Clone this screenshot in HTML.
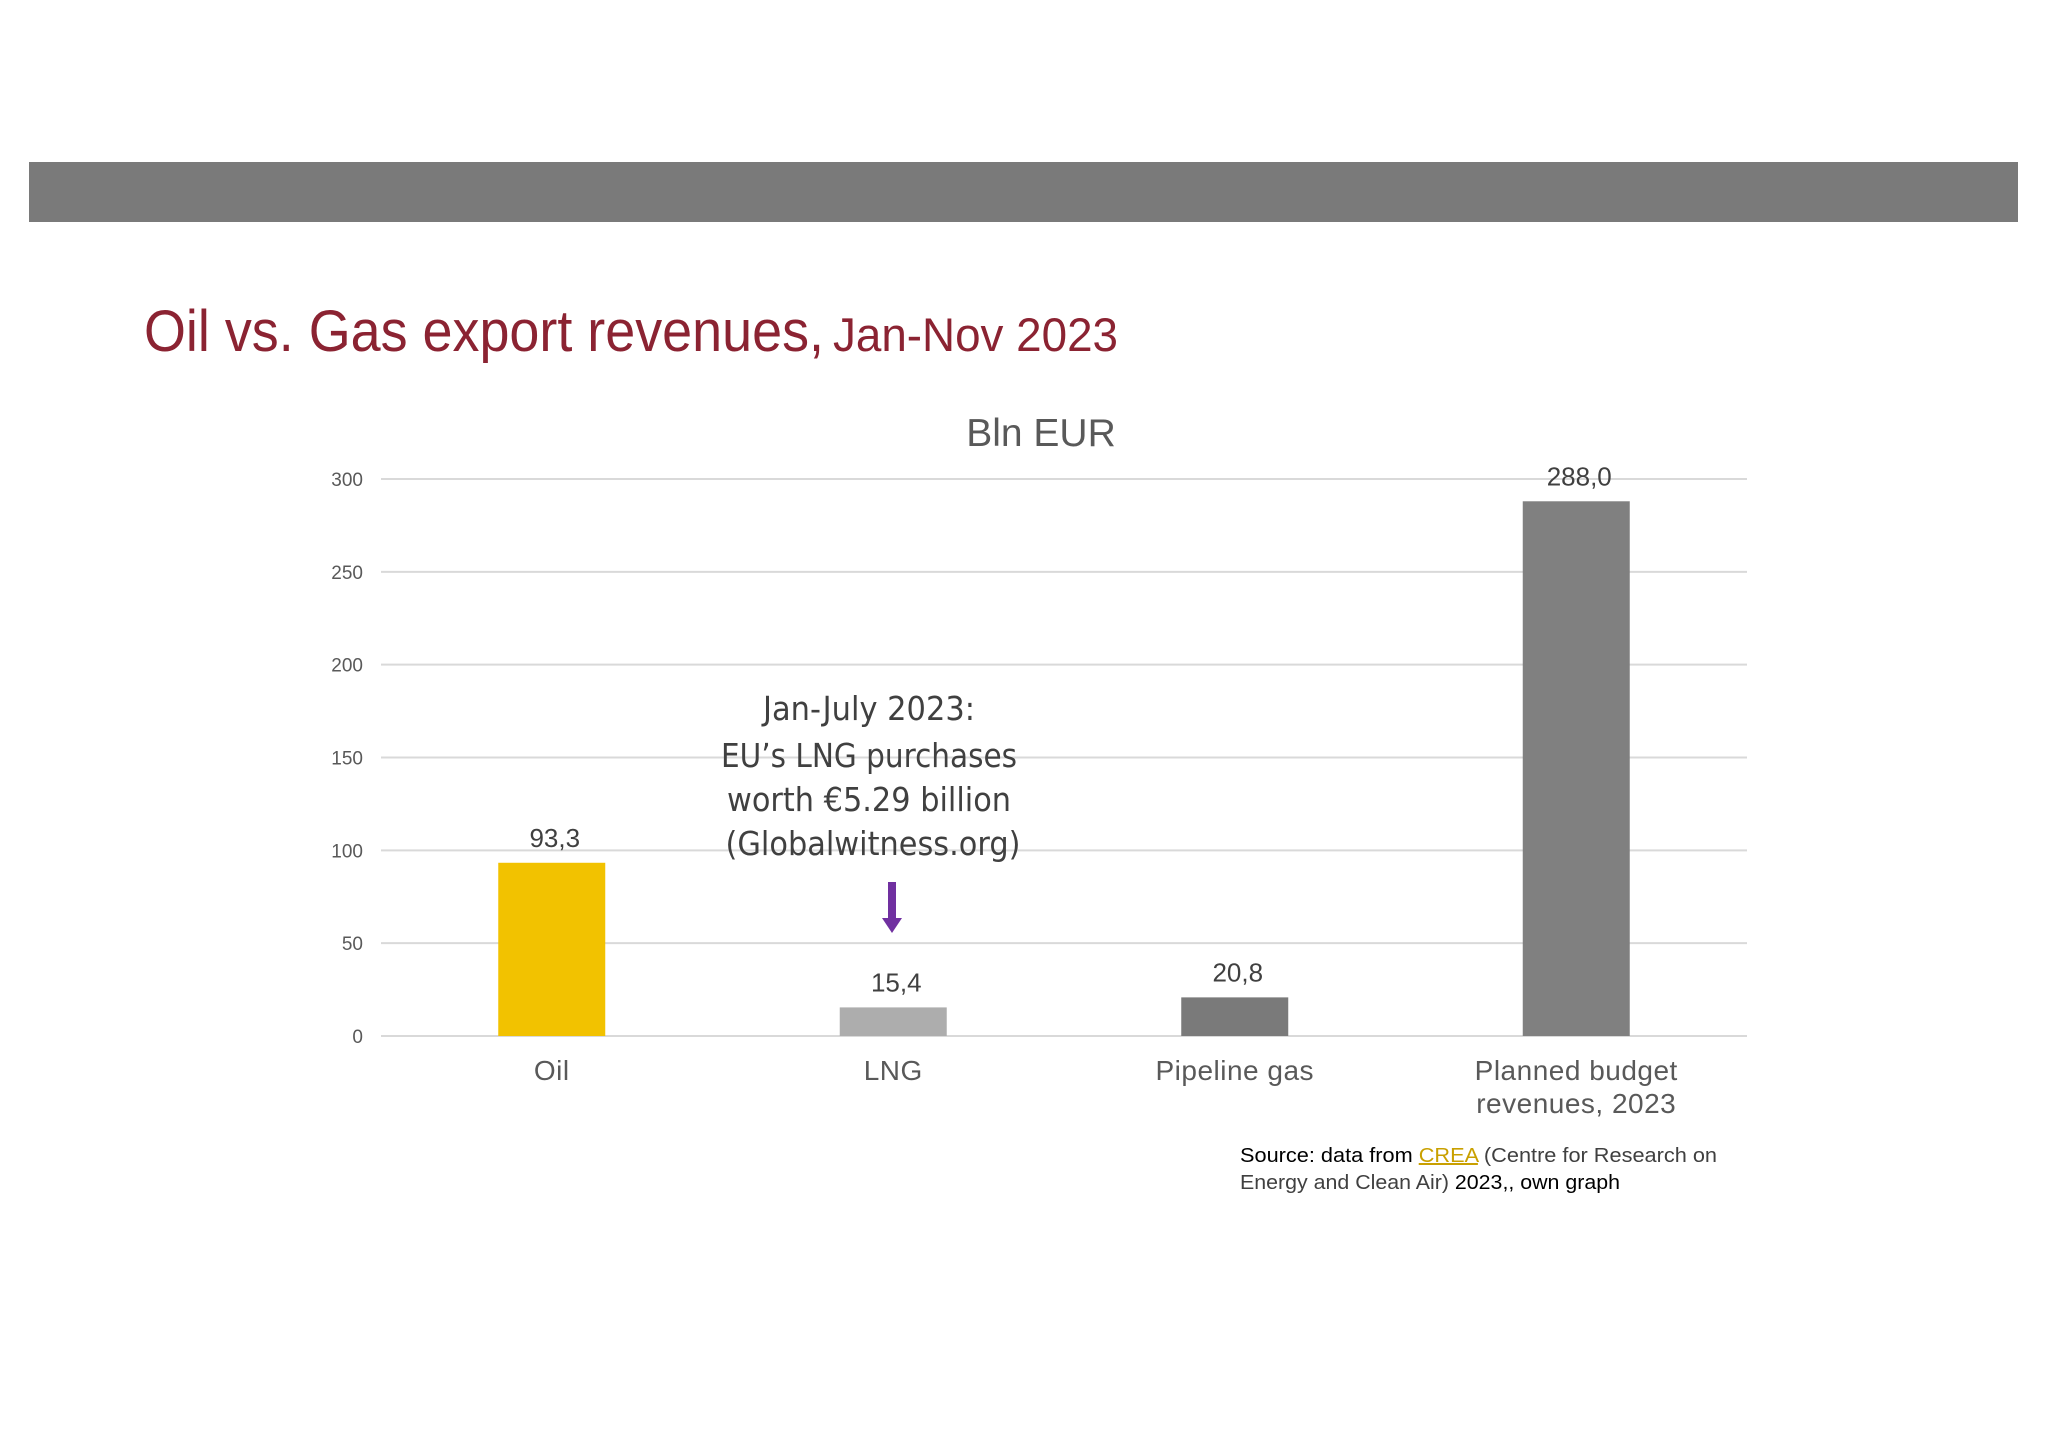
<!DOCTYPE html>
<html><head><meta charset="utf-8"><style>
body{margin:0;width:2048px;height:1447px;background:#fff;overflow:hidden;font-family:"Liberation Sans",sans-serif;}
</style></head><body>
<svg width="2048" height="1447" viewBox="0 0 2048 1447" xmlns="http://www.w3.org/2000/svg">
<rect x="29" y="162" width="1989" height="60" fill="#7a7a7a"/>
<text x="144" y="351" fill="#8b2332" font-size="58" textLength="680" lengthAdjust="spacingAndGlyphs">Oil vs. Gas export revenues,</text>
<text x="833" y="351" fill="#8b2332" font-size="47" textLength="285" lengthAdjust="spacingAndGlyphs">Jan-Nov 2023</text>
<text x="1041" y="446" fill="#595959" font-size="39" text-anchor="middle">Bln EUR</text>
<g id="chart"></g>
<g fill="#404040" font-size="33" text-anchor="middle" font-family="'DejaVu Sans','Liberation Sans',sans-serif">
<text x="869" y="720" textLength="212" lengthAdjust="spacingAndGlyphs">Jan-July 2023:</text>
<text x="869" y="767" textLength="296" lengthAdjust="spacingAndGlyphs">EU’s LNG purchases</text>
<text x="869" y="811" textLength="284" lengthAdjust="spacingAndGlyphs">worth €5.29 billion</text>
<text x="873" y="855" textLength="295" lengthAdjust="spacingAndGlyphs">(Globalwitness.org)</text>
</g>
<g>
<rect x="888" y="882" width="8" height="38" fill="#7030a0"/>
<polygon points="882,918 902,918 892,933" fill="#7030a0"/>
</g>
<g font-size="20">
<text x="1240" y="1162" fill="#000" textLength="477" lengthAdjust="spacingAndGlyphs">Source: data from <tspan fill="#c9a000" text-decoration="underline">CREA</tspan> <tspan fill="#404040">(Centre for Research on</tspan></text>
<text x="1240" y="1189" fill="#404040" textLength="380" lengthAdjust="spacingAndGlyphs">Energy and Clean Air) <tspan fill="#000">2023,, own graph</tspan></text>
</g>
</svg>
<script>
const categories=["Oil","LNG","Pipeline gas","Planned  budget|revenues, 2023"];
const values=[93.3,15.4,20.8,288.0];
const valueLabels=["93,3","15,4","20,8","288,0"];
const ticks=[0,50,100,150,200,250,300];
const colors=["#f2c200","#adadad","#7a7a7a","#808080"];
const NS="http://www.w3.org/2000/svg";
const g=document.getElementById('chart');
const x0=381,x1=1747,yTop=479,yBot=1036,maxV=300;
const y=v=>yBot-(v/maxV)*(yBot-yTop);
const band=(x1-x0)/categories.length;
const xc=i=>x0+band*(i+0.5);
function mk(t,a){const e=document.createElementNS(NS,t);for(const k in a)e.setAttribute(k,a[k]);g.appendChild(e);return e;}
ticks.forEach(t=>{
const l=mk('line',{x1:x0,x2:x1,y1:y(t),y2:y(t),stroke:'#d9d9d9','stroke-width':2});


const tx=mk('text',{x:363,y:y(t)+7,'text-anchor':'end','font-size':19,fill:'#595959'});
tx.textContent=t;


});
const bw=107;
values.forEach((v,i)=>{
const r=mk('rect',{x:xc(i)-bw/2,y:y(v),width:bw,height:yBot-y(v),fill:colors[i]});


const vl=mk('text',{x:xc(i)+3,y:y(v)-16,'text-anchor':'middle','font-size':26,fill:'#404040'});
vl.textContent=valueLabels[i];


categories[i].split('|').forEach((s,j)=>{
const c=mk('text',{x:xc(i),y:1080+j*33,'text-anchor':'middle','font-size':28,fill:'#595959','letter-spacing':'0.5','xml:space':'preserve'});
c.textContent=s;


});
});
</script>
</body></html>
